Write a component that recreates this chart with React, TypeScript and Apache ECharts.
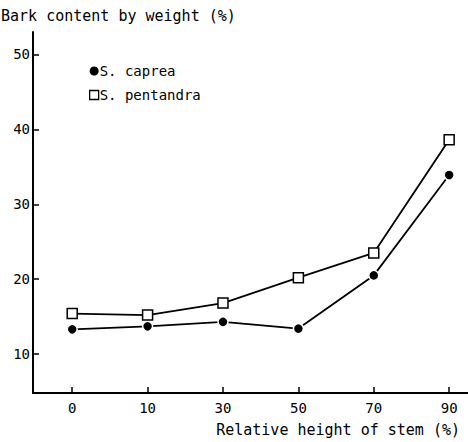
import React, { useEffect, useRef } from "react";
import * as echarts from "echarts";

const categories = ["0", "10", "30", "50", "70", "90"];
const capreaValues = [13.3, 13.7, 14.3, 13.4, 20.5, 33.9];
const pentandraValues = [15.4, 15.2, 16.8, 20.2, 23.5, 38.6];
const yTicks = [10, 20, 30, 40, 50];

const FONT = "DejaVu Sans Mono";

export default function App() {
  const ref = useRef<HTMLDivElement>(null);
  useEffect(() => {
    if (!ref.current) return;
    const chart = echarts.init(ref.current, null, { renderer: "svg" });
    const idx = categories.map((_, i) => i);
    chart.setOption({
      animation: false,
      backgroundColor: "#ffffff",
      textStyle: { fontFamily: FONT, color: "#000" },
      grid: { left: 33, right: 0, top: 32, bottom: 49, containLabel: false },
      legend: {
        orient: "vertical",
        left: 89,
        top: 64,
        padding: 0,
        itemWidth: 9,
        itemHeight: 9,
        itemGap: 10,
        textStyle: { fontFamily: FONT, fontSize: 14, color: "#000", padding: [0, 0, 0, -4] },
        data: [
          { name: "S. caprea", icon: "circle", itemStyle: { color: "#000", borderWidth: 0 } },
          { name: "S. pentandra", icon: "rect", itemStyle: { color: "#fff", borderColor: "#000", borderWidth: 1.3 } },
        ],
      },
      xAxis: {
        type: "value",
        min: -0.52,
        max: 5.25,
        splitLine: { show: false },
        axisLine: { onZero: false, lineStyle: { color: "#000", width: 2 } },
        axisTick: {
          inside: true,
          length: 6,
          lineStyle: { color: "#000", width: 1.5 },
          customValues: idx,
        },
        axisLabel: {
          customValues: idx,
          formatter: (v: number) => categories[Math.round(v)] ?? "",
          color: "#000",
          fontFamily: FONT,
          fontSize: 14,
          margin: 8,
        },
      },
      yAxis: {
        type: "value",
        min: 4.8,
        max: 53,
        splitLine: { show: false },
        axisLine: { show: true, onZero: false, lineStyle: { color: "#000", width: 2 } },
        axisTick: {
          show: true,
          inside: true,
          length: 6,
          lineStyle: { color: "#000", width: 1.5 },
          customValues: yTicks,
        },
        axisLabel: {
          customValues: yTicks,
          color: "#000",
          fontFamily: FONT,
          fontSize: 14,
          margin: 3,
        },
      },
      graphic: [
        {
          type: "text",
          left: 1,
          top: 8,
          style: {
            text: "Bark content by weight (%)",
            font: `15px "${FONT}"`,
            fill: "#000",
          },
        },
        {
          type: "text",
          right: 8,
          top: 422,
          style: {
            text: "Relative height of stem (%)",
            font: `15px "${FONT}"`,
            fill: "#000",
          },
        },
      ],
      series: [
        {
          name: "S. caprea",
          type: "line",
          data: idx.map((i) => [i, capreaValues[i]]),
          symbol: "circle",
          symbolSize: 10,
          itemStyle: { color: "#000", borderColor: "#fff", borderWidth: 1.5 },
          lineStyle: { color: "#000", width: 1.8 },
          z: 3,
        },
        {
          name: "S. pentandra",
          type: "line",
          data: idx.map((i) => [i, pentandraValues[i]]),
          symbol: "rect",
          symbolSize: 10,
          itemStyle: { color: "#fff", borderColor: "#000", borderWidth: 1.5 },
          lineStyle: { color: "#000", width: 1.8 },
          z: 3,
        },
      ],
    });
    return () => chart.dispose();
  }, []);
  return (
    <div
      ref={ref}
      style={{ position: "absolute", left: 0, top: 0, width: 468, height: 442 }}
    />
  );
}
